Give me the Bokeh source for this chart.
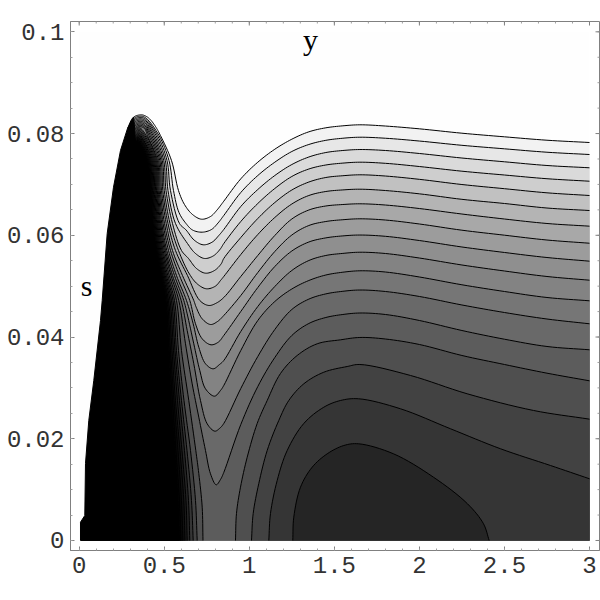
import numpy as np
from bokeh.plotting import figure
from bokeh.models import LinearAxis, FixedTicker, Range1d
from bokeh.core.properties import value
from bokeh.embed import file_html
from bokeh.resources import INLINE

x_major = [0, 0.5, 1, 1.5, 2, 2.5, 3]
x_minor = [i / 10 for i in range(0, 31)]
x_labels = ["0", "0.5", "1", "1.5", "2", "2.5", "3"]
y_major = [0, 0.02, 0.04, 0.06, 0.08, 0.1]
y_minor = [i * 0.005 for i in range(0, 21)]
y_labels = ["0", "0.02", "0.04", "0.06", "0.08", "0.1"]

x_col = [.85, .95, 1.05, 1.15, 1.25, 1.35, 1.45, 1.55, 1.65, 1.8, 2.0, 2.25, 2.5, 2.75, 3.0]
row14 = [.07961, .0747, .0688, .06232, .05701, .05209, .04718, .03735, .02752, .01769]
rows = [.0747, .0688, .06232, .05701, .05209, .04718, .03735, .02752, .01769, .00786, 0]

L1_x = [.2839, .3192, .3662, .3957, .4193, .4487, .4779, .5426, .5838, .6190, .6661, .7190, .7719, .8113]
L1_y = [.08099, .08321, .08368, .08335, .08270, .08138, .07961, .0747, .0688, .06605, .06409, .06316, .06369, .06501,
        .06670, .07110, .07437, .07692, .07889, .08034, .08113, .08152, .08172, .08148, .08093, .08007, .07936, .07869, .07824]
L2_x = [.2860, .3201, .3650, .3945, .4691, .5279, .5544, .5867, .6279, .6661, .7231, .7778, .8160]
L2_y = [.08085, .08295, .08342, .08300, .07961, .0747, .0688, .06448, .06232, .06104, .06061, .06114, .06241,
        .06389, .06841, .07175, .07437, .07647, .07785, .07867, .07908, .07928, .07908, .07853, .07769, .07700, .07633, .07588]
L3_x = [.2881, .3210, .3638, .3933, .4603, .5162, .5367, .5897, .6290, .6761, .7290, .7819, .8213]
L3_y = [.08071, .08270, .08317, .08275, .07961, .0747, .0688, .06232, .06102, .05905, .05813, .05866, .05998,
        .06114, .06566, .06900, .07175, .07391, .07539, .07627, .07667, .07686, .07667, .07608, .07519, .07445, .07372, .07327]
L4_x = [.2901, .3218, .3627, .3922, .4515, .5062, .5220, .5661, .6367, .6837, .7366, .7895, .8289]
L4_y = [.08057, .08244, .08291, .08249, .07961, .0747, .0688, .06232, .05838, .05642, .05544, .05597, .05728,
        .05838, .06271, .06625, .06920, .07156, .07303, .07382, .07419, .07437, .07415, .07352, .07260, .07185, .07112, .07063]
L5_x = [.2922, .3227, .3615, .3910, .4427, .4968, .5103, .5485, .6014, .6426, .6896, .7425, .7954, .8348]
L5_y = [.08043, .08219, .08266, .08224, .07961, .0747, .0688, .06232, .05701, .05544, .05347, .05255, .05308, .05439,
        .05544, .05956, .06330, .06644, .06890, .07047, .07136, .07171, .07189, .07165, .07100, .06998, .06916, .06835, .06782]
L6_x = [.2942, .3236, .3603, .3898, .4345, .4885, .5003, .5338, .5838, .6484, .6955, .7484, .8013, .8307]
L6_y = [.08029, .08193, .08240, .08198, .07961, .0747, .0688, .06232, .05701, .05237, .05040, .04948, .05001, .05111,
        .05190, .05622, .06015, .06350, .06615, .06782, .06861, .06892, .06906, .06880, .06815, .06707, .06625, .06536, .06487]
L7_x = [.2963, .3245, .3591, .3886, .4262, .4809, .4915, .5220, .5661, .6367, .7090, .7619, .8072]
L7_y = [.08015, .08167, .08214, .08172, .07961, .0747, .0688, .06232, .05701, .05209, .04718, .04620, .04669,
        .04777, .05190, .05603, .05996, .06320, .06497, .06576, .06605, .06619, .06595, .06526, .06418, .06320, .06232, .06179]
L8_x = [.2984, .3254, .3579, .3874, .4180, .4738, .4838, .5115, .5485, .6073, .6737, .6878, .7231, .7719, .8131]
L8_y = [.08001, .08142, .08189, .08147, .07961, .0747, .0688, .06232, .05701, .05209, .04718, .04586, .04358, .04246, .04305,
        .04423, .04816, .05268, .05681, .06005, .06192, .06271, .06306, .06324, .06300, .06222, .06100, .06002, .05907, .05844]
L9_x = [.3004, .3263, .3568, .3863, .4098, .4668, .4768, .5015, .5367, .5897, .6502, .6837, .7231, .7748, .8189]
L9_y = [.07987, .08116, .08163, .08121, .07961, .0747, .0688, .06232, .05701, .05209, .04718, .04260, .03965, .03847, .03902,
        .04030, .04502, .04973, .05386, .05691, .05868, .05949, .05988, .06005, .05980, .05897, .05770, .05662, .05563, .05491]
L10_x = [.3025, .3271, .3556, .3851, .4015, .4603, .4703, .4932, .5250, .5720, .6308, .6702, .7031, .7425, .7878, .8248]
L10_y = [.07973, .08090, .08137, .08095, .07961, .0747, .0688, .06232, .05701, .05209, .04718, .04260, .03800, .03474, .03375, .03460,
         .03538, .04109, .04600, .04993, .05308, .05504, .05603, .05644, .05667, .05642, .05553, .05416, .05298, .05190, .05117]
L11_x = [.3045, .3280, .3544, .3939, .4544, .4644, .4856, .5150, .5603, .6149, .6349, .6737, .7090, .7425, .7954, .8307]
L11_y = [.07959, .08065, .08112, .07961, .0747, .0688, .06232, .05701, .05209, .04718, .04456, .03867, .03342, .02982, .02837, .02949,
         .03047, .03735, .04325, .04698, .04944, .05111, .05219, .05274, .05302, .05278, .05180, .05027, .04895, .04777, .04712]
L12_x = [.3066, .3289, .3532, .3862, .4486, .4591, .4791, .5074, .5485, .5997, .6349, .6737, .7131, .7525, .7972, .8248]
L12_y = [.07945, .08039, .08086, .07961, .0747, .0688, .06232, .05701, .05209, .04718, .04128, .03474, .02752, .02294, .02149, .02202,
         .02300, .02988, .03617, .04148, .04541, .04745, .04848, .04899, .04924, .04895, .04797, .04630, .04482, .04354, .04260]
L13_x = [.3087, .3298, .3520, .3786, .4427, .4544, .4733, .5003, .5397, .5855, .6249, .6643, .7031, .7425, .7719, .8054, .8307]
L13_y = [.07931, .08013, .08060, .07961, .0747, .0688, .06232, .05701, .05209, .04718, .03867, .03080, .02424, .01769, .01311, .01095, .01199,
         .01337, .02280, .03027, .03597, .04030, .04266, .04384, .04443, .04472, .04443, .04325, .04128, .03957, .03814, .03749]

R14_x = [.9188, .9247, .9483, .9877, 1.0464, 1.1052, 1.1834, 1.2816, 1.3992, 1.5362, 1.65, 1.8, 2.0, 2.25, 2.5, 2.75, 3.0]
R14_y = [0, .00531, .01048, .01637, .023, .02752, .03283, .03637, .03867, .03945, .03991, .03961, .03853, .03637, .0346, .03289, .03139]
R15_x = [1.0129, 1.0229, 1.0559, 1.1052, 1.1734, 1.2322, 1.3204, 1.4380, 1.5755, 1.65, 1.9477, 2.2810, 2.6708, 3.0]
R15_y = [0, .00531, .0112, .01769, .02359, .02752, .0308, .03308, .0342, .0346, .03244, .02884, .02556, .02385]
R16_x = [1.1146, 1.1246, 1.1640, 1.2228, 1.3204, 1.4380, 1.5362, 1.6420, 1.8889, 2.1829, 2.4768, 2.7707, 3.0]
R16_y = [0, .00531, .0118, .01769, .023, .0262, .02752, .02786, .02589, .02196, .01803, .01474, .01213]
R17_x = [1.2557, 1.2616, 1.3010, 1.3698, 1.4580, 1.5556, 1.6420, 1.8477, 2.0829, 2.2828, 2.3769, 2.4103]
R17_y = [0, .00458, .01048, .01441, .01704, .01867, .01901, .01704, .01244, .00721, .00328, 0]

H14_x = [.3107, .3306, .3509, .3710, .4368, .4497, .4674, .4932, .5297, .5720, .6014, .6443, .6855, .7031, .7231, .7278]
H14_y = [.07917, .07988, .08035] + row14 + [.01317, .00655, 0]
H15_x = [.3128, .3315, .3497, .3633, .4309, .4450, .4615, .4868, .5209, .5603, .5838, .6161, .6543, .6837, .6937]
H15_y = [.07903, .07962, .08009, .07961] + rows
H16_x = [.3148, .3324, .3485, .4250, .4403, .4562, .4803, .5132, .5514, .5720, .6014, .6337, .6602, .6702]
H16_y = [.07889, .07936, .07983] + rows
H17_x = [.3169, .3333, .3473, .4192, .4356, .4509, .4744, .5062, .5426, .5632, .5896, .6190, .6426, .6502]
H17_y = [.07875, .07911, .07958] + rows
H18_x = [.3190, .3342, .3462, .4139, .4309, .4456, .4685, .4997, .5338, .5544, .5779, .6043, .6279, .6349]
H18_y = [.07861, .07885, .07932] + rows
H19_x = [.3210, .3350, .3450, .4086, .4262, .4403, .4627, .4932, .5250, .5456, .5661, .5926, .6149, .6220]
H19_y = [.07847, .07860, .07906] + rows
H20_x = [.3231, .3359, .3438, .4033, .4215, .4350, .4574, .4874, .5179, .5367, .5573, .5808, .6014, .6102]
H20_y = [.07833, .07834, .07881] + rows
H21_x = [.3251, .3368, .3426, .3980, .4168, .4303, .4521, .4815, .5103, .5291, .5485, .5691, .5897, .5985]
H21_y = [.07819, .07809, .07855] + rows
H22_x = [.3272, .3377, .3415, .3927, .4121, .4256, .4468, .4756, .5015, .5191, .5367, .5585, .5779, .5867]
H22_y = [.07805, .07783, .07829] + rows

edge_x = [.0076, .0076, .0329, .0370, .0564, .0858, .1252, .1352, .1646, .2016, .2428, .2839, .3075, .3192, .3250, .3300]
edge_y = [0, .0036, .00491, .01514, .02359, .03145, .04325, .04718, .06035, .06945, .07667, .08099, .0826, .08321, .0815, .0785]

valley_lines = [(L1_x, L1_y), (L2_x, L2_y), (L3_x, L3_y), (L4_x, L4_y), (L5_x, L5_y), (L6_x, L6_y), (L7_x, L7_y),
                (L8_x, L8_y), (L9_x, L9_y), (L10_x, L10_y), (L11_x, L11_y), (L12_x, L12_y), (L13_x, L13_y)]
valley_gray = ["#f2f2f2", "#e7e7e7", "#dadada", "#cecece", "#c1c1c1", "#b4b4b4", "#a8a8a8",
               "#9c9c9c", "#8f8f8f", "#838383", "#767676", "#696969", "#5c5c5c"]
right_lines = [(R14_x, R14_y), (R15_x, R15_y), (R16_x, R16_y), (R17_x, R17_y)]
right_gray = ["#4f4f4f", "#424242", "#353535", "#252525"]
hump_lines = [(H14_x, H14_y), (H15_x, H15_y), (H16_x, H16_y), (H17_x, H17_y), (H18_x, H18_y),
              (H19_x, H19_y), (H20_x, H20_y), (H21_x, H21_y), (H22_x, H22_y)]
hump_gray = ["#4f4f4f", "#424242", "#353535", "#252525", "#1a1a1a", "#101010", "#080808", "#030303", "#000000"]

name_x = [1.36, 0.044]
name_y = [0.0985, 0.0501]
name_text = ["y", "s"]

X0, X1 = -0.0511, 3.0588
Y0, Y1 = -0.00197, 0.10203
FRAME_W, FRAME_H = 529, 529

p = figure(width=600, height=588, output_backend="svg", toolbar_location=None,
           x_range=Range1d(X0, X1), y_range=Range1d(Y0, Y1),
           min_border_left=70, min_border_right=1, min_border_top=21, min_border_bottom=38,
           x_axis_type=None, y_axis_type=None)
p.grid.visible = False
p.outline_line_color = "#808080"
p.background_fill_color = "white"


def style(ax, ticks, minor, labels):
    ax.ticker = FixedTicker(ticks=ticks, minor_ticks=minor)
    ax.axis_line_color = "#808080"
    ax.major_tick_line_color = "#808080"
    ax.minor_tick_line_color = "#a0a0a0"
    ax.major_tick_in = 4
    ax.major_tick_out = 0
    ax.minor_tick_in = 2
    ax.minor_tick_out = 0
    ax.major_label_overrides = dict(zip(ticks, labels))
    ax.major_label_text_font = "Liberation Mono"
    ax.major_label_text_font_size = "24px"
    ax.major_label_text_color = "#333333"
    ax.major_label_standoff = 6


a = LinearAxis()
style(a, x_major, x_minor, x_labels)
p.add_layout(a, "below")
a = LinearAxis()
style(a, y_major, y_minor, y_labels)
p.add_layout(a, "left")

dy_major = 4 * (Y1 - Y0) / FRAME_H
dy_minor = 2 * (Y1 - Y0) / FRAME_H
dx_major = 4 * (X1 - X0) / FRAME_W
dx_minor = 2 * (X1 - X0) / FRAME_W
p.segment(x_minor, [Y1] * len(x_minor), x_minor, [Y1 - dy_minor] * len(x_minor), line_color="#a0a0a0", line_width=1)
p.segment(x_major, [Y1] * len(x_major), x_major, [Y1 - dy_major] * len(x_major), line_color="#808080", line_width=1)
p.segment([X1] * len(y_minor), y_minor, [X1 - dx_minor] * len(y_minor), y_minor, line_color="#a0a0a0", line_width=1)
p.segment([X1] * len(y_major), y_major, [X1 - dx_major] * len(y_major), y_major, line_color="#808080", line_width=1)

p.quad(left=[x_major[0]], right=[x_major[-1]], bottom=[y_major[0]], top=[y_major[-1]],
       fill_color="#fefefe", line_color=None)


def smooth(xs, ys, n=8):
    # centripetal Catmull-Rom drawing of the read points, in screen proportions
    sx, sy = FRAME_W / (X1 - X0), FRAME_H / (Y1 - Y0)
    P = np.column_stack([np.array(xs) * sx, np.array(ys) * sy])
    P = np.vstack([2 * P[0] - P[1], P, 2 * P[-1] - P[-2]])
    out = [P[1]]
    for i in range(1, len(P) - 2):
        p0, p1, p2, p3 = P[i - 1], P[i], P[i + 1], P[i + 2]
        t1 = np.linalg.norm(p1 - p0) ** 0.5 + 1e-6
        t2 = t1 + np.linalg.norm(p2 - p1) ** 0.5 + 1e-6
        t3 = t2 + np.linalg.norm(p3 - p2) ** 0.5 + 1e-6
        for t in np.linspace(t1, t2, n + 1)[1:]:
            a1 = (t1 - t) / t1 * p0 + t / t1 * p1
            a2 = (t2 - t) / (t2 - t1) * p1 + (t - t1) / (t2 - t1) * p2
            a3 = (t3 - t) / (t3 - t2) * p2 + (t - t2) / (t3 - t2) * p3
            b1 = (t2 - t) / t2 * a1 + t / t2 * a2
            b2 = (t3 - t) / (t3 - t1) * a2 + (t - t1) / (t3 - t1) * a3
            out.append((t2 - t) / (t2 - t1) * b1 + (t - t1) / (t2 - t1) * b2)
    out = np.array(out)
    return list(out[:, 0] / sx), list(np.clip(out[:, 1] / sy, 0, None))


def contour(xs, ys, gray):
    sx_, sy_ = smooth(xs, ys)
    p.patch(sx_ + [sx_[-1], sx_[0]], sy_ + [0, 0], fill_color=gray, line_color=None)
    p.line(sx_, sy_, line_color="#000000", line_width=1)


for (xs, ys), g in zip(valley_lines, valley_gray):
    contour(list(xs) + x_col, ys, g)
for (xs, ys), g in zip(right_lines, right_gray):
    contour(xs, ys, g)
for (xs, ys), g in zip(hump_lines, hump_gray):
    contour(xs, ys, g)

tail_x, tail_y = smooth(H22_x[2:], H22_y[2:])
p.patch(edge_x + tail_x, edge_y + tail_y, fill_color="#000000", line_color="#000000", line_width=1)

p.text(name_x, name_y, text=name_text, text_font=value("Liberation Serif"), text_font_size="30px",
       text_align="center", text_baseline="middle", text_color="#000000")

open("out.html", "w").write(file_html(p, INLINE))
